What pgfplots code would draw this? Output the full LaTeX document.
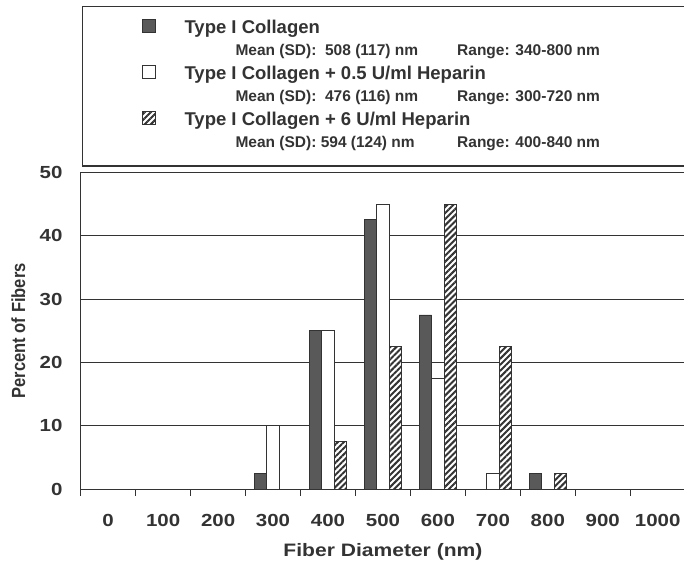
\documentclass[border=0pt]{standalone}
\usepackage{fontspec}
\setmainfont{Liberation Sans}
\newfontfamily\axfont{Liberation Sans}[FakeStretch=1.17]
\newfontfamily\ylfont{Liberation Sans}[FakeStretch=0.87]
\usepackage{pgfplots}
\pgfplotsset{compat=1.18}
\usetikzlibrary{patterns.meta}
\definecolor{ink}{HTML}{333333}
\definecolor{barfill}{HTML}{595959}
\pgfplotsset{sqlegend/.style={legend image code/.code={\pgfpathmoveto{\pgfpoint{0pt}{0pt}}\pgfpathlineto{\pgfpoint{102.3pt}{0pt}}\pgfusepath{}\draw[##1] (60pt,0.8pt) rectangle (73.3pt,14pt);}}}
\newcommand{\legtext}[3]{\fontsize{18.5}{22.5}\selectfont\bfseries\begin{tabular}[t]{@{}p{560pt}@{}}#1\\ \fontsize{15.5}{18}\selectfont\hspace*{51pt}\makebox[221.7pt][l]{#2}#3\end{tabular}}
\begin{document}
\begin{tikzpicture}
\begin{axis}[
  at={(80.7pt,77.7pt)}, anchor=south west,
  scale only axis, width=604.5pt, height=317pt,
  xmin=-0.5, xmax=10.5, ymin=0, ymax=50,
  enlargelimits=false,
  ybar=0pt, bar width=0.2277,
  xtick={0,...,10},
  xticklabels={0,100,200,300,400,500,600,700,800,900,1000},
  minor xtick={-0.5,0.5,...,10.5},
  ytick={0,10,...,50}, yticklabels={0,10,20,30,40,50},
  major tick length=0pt, minor tick length=6.5pt,
  tick align=outside, tick pos=left,
  every tick/.style={ink, line width=1pt},
  ymajorgrids, grid style={ink, line width=0.9pt},
  axis line style={ink, line width=1.1pt},
  xticklabel style={font=\axfont\bfseries\fontsize{17.5}{20}\selectfont, text=ink, anchor=base, inner sep=0pt, yshift=-37.4pt},
  yticklabel style={font=\axfont\bfseries\fontsize{17.5}{20}\selectfont, text=ink, anchor=east, inner sep=0pt, xshift=-18pt},
  xlabel={Fiber Diameter (nm)},
  xlabel style={font=\axfont\bfseries\fontsize{18}{20}\selectfont, text=ink, at={(axis description cs:0.5,-0.2126)}, anchor=base, inner sep=0pt},
  ylabel={Percent of Fibers},
  ylabel style={font=\ylfont\bfseries\fontsize{19}{21}\selectfont, text=ink, at={(axis description cs:-0.0921,0.5)}, anchor=base, inner sep=0pt},
  legend style={at={(axis description cs:0,1)}, anchor=south west, xshift=1pt, yshift=5.8pt,
    draw=ink, line width=1.1pt, inner xsep=0pt, inner ysep=11.3pt, row sep=1pt,
    cells={anchor=base west}, nodes={inner sep=0pt, text depth=}, text=ink},
]
\addplot[fill=barfill, draw=ink, line width=0.9pt, bar shift=-0.2277, sqlegend]
  coordinates {(3,2.5) (4,25) (5,42.5) (6,27.5) (8,2.5)};
\addlegendentry{\legtext{Type I Collagen}{Mean (SD):\ \ 508 (117) nm}{Range: 340-800 nm}}
\addplot[fill=white, draw=ink, line width=0.9pt, bar shift=0, sqlegend]
  coordinates {(3,10) (4,25) (5,45) (6,17.5) (7,2.5)};
\addlegendentry{\legtext{Type I Collagen + 0.5 U/ml Heparin}{Mean (SD):\ \ 476 (116) nm}{Range: 300-720 nm}}
\addplot[fill=white, draw=ink, line width=0.9pt, bar shift=0.2277,
  postaction={pattern={Lines[angle=45,distance=4.3pt,line width=2pt]}, pattern color=ink}, sqlegend]
  coordinates {(4,7.5) (5,22.5) (6,45) (7,22.5) (8,2.5)};
\addlegendentry{\legtext{Type I Collagen + 6 U/ml Heparin}{Mean (SD): 594 (124) nm}{Range: 400-840 nm}}
\end{axis}
\pgfresetboundingbox
\path[use as bounding box] (0pt,0pt) rectangle (684pt,567pt);
\end{tikzpicture}
\end{document}
